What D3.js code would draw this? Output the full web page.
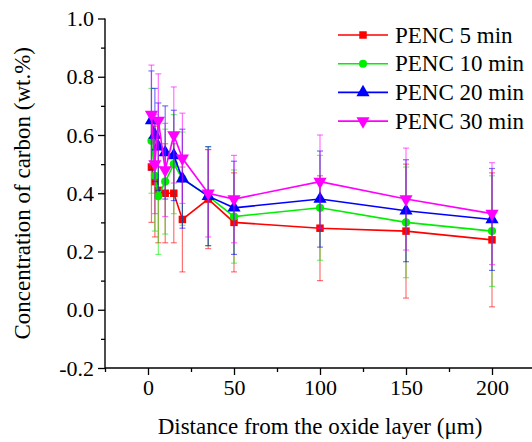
<!DOCTYPE html>
<html><head><meta charset="utf-8">
<script src="https://cdn.jsdelivr.net/npm/d3@7"></script>
<style>body{margin:0;background:#fff}svg{display:block}text{font-family:"Liberation Serif","Times New Roman",serif;fill:#000}</style>
</head><body><svg id="c" width="532" height="442"></svg>
<script>
const distances = [2, 4, 6, 10, 15, 20, 35, 50, 100, 150, 200];
const penc5   = [0.49, 0.44, 0.41, 0.40, 0.40, 0.31, 0.38, 0.30, 0.28, 0.27, 0.24];
const penc5Err   = [0.19, 0.19, 0.18, 0.17, 0.17, 0.18, 0.17, 0.17, 0.18, 0.23, 0.23];
const penc10  = [0.58, 0.46, 0.39, 0.44, 0.50, 0.45, 0.39, 0.32, 0.35, 0.30, 0.27];
const penc10Err  = [0.18, 0.19, 0.20, 0.18, 0.17, 0.16, 0.17, 0.16, 0.18, 0.19, 0.19];
const penc20  = [0.65, 0.60, 0.56, 0.54, 0.53, 0.45, 0.39, 0.35, 0.38, 0.34, 0.31];
const penc20Err  = [0.17, 0.16, 0.15, 0.16, 0.155, 0.17, 0.17, 0.16, 0.165, 0.175, 0.175];
const penc30  = [0.67, 0.50, 0.65, 0.48, 0.60, 0.52, 0.40, 0.38, 0.44, 0.38, 0.33];
const penc30Err  = [0.17, 0.17, 0.16, 0.16, 0.165, 0.155, 0.15, 0.15, 0.16, 0.175, 0.175];
const seriesNames = ["PENC 5 min", "PENC 10 min", "PENC 20 min", "PENC 30 min"];
const xTicks = [0, 50, 100, 150, 200];
const xMinor = [-25, 25, 75, 125, 175, 225];
const yTicks = [-0.2, 0.0, 0.2, 0.4, 0.6, 0.8, 1.0];
const yMinor = [-0.1, 0.1, 0.3, 0.5, 0.7, 0.9];

const colors = ["#ff0000", "#00ee00", "#0000ff", "#ff00ff"];
const shapes = [d3.symbolSquare, d3.symbolCircle, d3.symbolTriangle, "down"];
const values = [penc5, penc10, penc20, penc30];
const errs = [penc5Err, penc10Err, penc20Err, penc30Err];

const svg = d3.select("#c");
const x = d3.scaleLinear().domain([-25, 225]).range([105, 535]);
const y = d3.scaleLinear().domain([-0.2, 1.0]).range([368, 18.5]);

const xAxis = svg.append("g").attr("transform", `translate(0,${y(-0.2)})`)
  .call(d3.axisBottom(x).tickValues(xTicks).tickSize(7).tickPadding(4).tickFormat(d3.format("d")));
svg.append("g").attr("transform", `translate(0,${y(-0.2)})`)
  .call(d3.axisBottom(x).tickValues(xMinor).tickSize(4).tickFormat(""))
  .select(".domain").remove();
const yAxis = svg.append("g").attr("transform", `translate(${x(-25)},0)`)
  .call(d3.axisLeft(y).tickValues(yTicks).tickSize(7).tickPadding(4).tickFormat(d => d.toFixed(1)));
svg.append("g").attr("transform", `translate(${x(-25)},0)`)
  .call(d3.axisLeft(y).tickValues(yMinor).tickSize(4).tickFormat(""))
  .select(".domain").remove();
svg.selectAll(".domain").attr("stroke", "#000").attr("stroke-width", 1.4);
svg.selectAll(".tick line").attr("stroke", "#000").attr("stroke-width", 1.3);
xAxis.selectAll("text").attr("font-size", 22);
yAxis.selectAll("text").attr("font-size", 22);
xAxis.select(".domain").attr("d", `M${x(-25)},0H${x(225)}`);
yAxis.select(".domain").attr("d", `M0,${y(-0.2)}V${y(1.0)}`);

svg.append("text").attr("x", 320).attr("y", 434).attr("text-anchor", "middle")
  .attr("font-size", 23).text("Distance from the oxide layer (\u03bcm)");
svg.append("text").attr("transform", `translate(30,${(y(1)+y(-0.2))/2}) rotate(-90)`)
  .attr("text-anchor", "middle").attr("font-size", 23).text("Concentration of carbon (wt.%)");

function marker(g, i, cx, cy) {
  const c = colors[i];
  if (shapes[i] === "down") {
    g.append("path").attr("d", d3.symbol(d3.symbolTriangle, 75)()).attr("transform", `translate(${cx},${cy}) rotate(180)`).attr("fill", c);
  } else {
    const size = i === 0 ? 56 : (i === 1 ? 52 : 75);
    g.append("path").attr("d", d3.symbol(shapes[i], size)()).attr("transform", `translate(${cx},${cy})`).attr("fill", c);
  }
}

values.forEach((vals, i) => {
  const g = svg.append("g");
  const c = colors[i];
  vals.forEach((v, k) => {
    const e = errs[i][k];
    const px = x(distances[k]);
    const eg = g.append("g").attr("stroke", c).attr("stroke-opacity", 0.55).attr("stroke-width", 1.2);
    eg.append("line").attr("x1", px).attr("x2", px).attr("y1", y(v + e)).attr("y2", y(v - e));
    eg.append("line").attr("x1", px - 3).attr("x2", px + 3).attr("y1", y(v + e)).attr("y2", y(v + e));
    eg.append("line").attr("x1", px - 3).attr("x2", px + 3).attr("y1", y(v - e)).attr("y2", y(v - e));
  });
  const line = d3.line().x((d, k) => x(distances[k])).y(d => y(d));
  g.append("path").attr("d", line(vals)).attr("fill", "none").attr("stroke", c).attr("stroke-width", 1.6);
  vals.forEach((v, k) => marker(g, i, x(distances[k]), y(v)));
});

const lg = svg.append("g");
seriesNames.forEach((name, i) => {
  const ly = 35 + i * 28.7;
  lg.append("line").attr("x1", 338).attr("x2", 388).attr("y1", ly).attr("y2", ly).attr("stroke", colors[i]).attr("stroke-width", 1.6);
  marker(lg, i, 363, ly);
  lg.append("text").attr("x", 395).attr("y", ly + 7.5).attr("font-size", 23).text(name);
});
</script></body></html>
